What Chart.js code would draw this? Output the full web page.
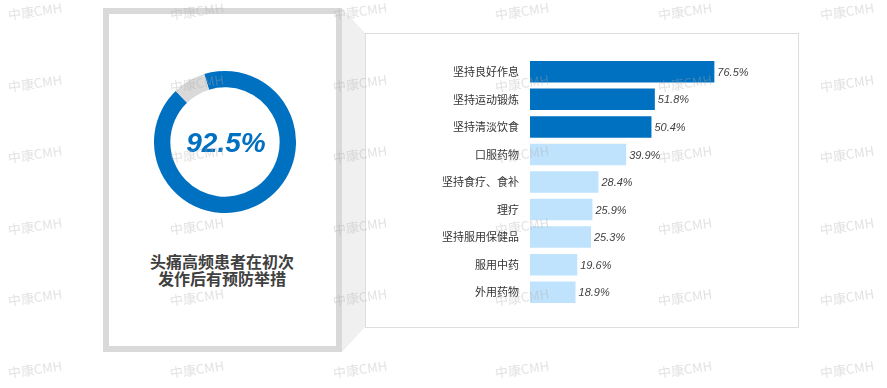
<!DOCTYPE html>
<html>
<head>
<meta charset="utf-8">
<script src="https://cdn.jsdelivr.net/npm/chart.js@4"></script>
<style>
  html, body { margin: 0; padding: 0; background: #fff; }
  #page { position: relative; width: 887px; height: 388px; overflow: hidden; font-family: "Noto Sans CJK SC", "Liberation Sans", sans-serif; }
  #leftBox { position: absolute; left: 103px; top: 8px; width: 227px; height: 332px; border: 6px solid #d9d9d9; background: #fff; }
  #side { position: absolute; left: 342px; top: 8px; width: 23px; height: 344px; background: #f0f0f0;
          clip-path: polygon(0 0, 100% 25px, 100% 319px, 0 100%); }
  #rightBox { position: absolute; left: 365px; top: 33px; width: 432px; height: 293px; border: 1px solid #dedede; background: #fff; }
  #donutWrap { position: absolute; left: 154px; top: 71px; width: 142px; height: 142px; }
  #donutText { position: absolute; left: 146px; top: 126px; width: 160px; text-align: center; font: italic bold 28px "Liberation Sans", Arial, sans-serif; color: #0070c0; line-height: 34px; }
  #title { position: absolute; left: 112px; top: 253px; width: 220px; text-align: center; font-weight: bold; font-size: 16px; line-height: 17px; color: #404040; }
  #barWrap { position: absolute; left: 365px; top: 33px; width: 433px; height: 294px; }
  .wm { position: absolute; font: 13px "Noto Sans CJK SC", "Liberation Sans", sans-serif; color: rgba(170,170,170,0.35); transform: rotate(-8deg); transform-origin: left center; white-space: nowrap; pointer-events: none; }
</style>
</head>
<body>
<div id="page">
  <div id="leftBox"></div>
  <div id="side"></div>
  <div id="rightBox"></div>
  <div id="donutWrap"><canvas id="donut"></canvas></div>
  <div id="donutText"></div>
  <div id="title">头痛高频患者在初次<br>发作后有预防举措</div>
  <div id="barWrap"><canvas id="bars"></canvas></div>
</div>
<script>
// donut: share with preventive measures
const donutValues = [92.5, 7.5];
const donutColors = ['#0070c0', '#d9d9d9'];

// bar chart
const categories = ['坚持良好作息', '坚持运动锻炼', '坚持清淡饮食', '口服药物', '坚持食疗、食补', '理疗', '坚持服用保健品', '服用中药', '外用药物'];
const values = [76.5, 51.8, 50.4, 39.9, 28.4, 25.9, 25.3, 19.6, 18.9];
const barColors = ['#0070c0', '#0070c0', '#0070c0', '#bfe3fd', '#bfe3fd', '#bfe3fd', '#bfe3fd', '#bfe3fd', '#bfe3fd'];

document.getElementById('donutText').textContent = donutValues[0] + '%';

new Chart(document.getElementById('donut'), {
    type: 'doughnut',
    data: {
        datasets: [{ data: donutValues, backgroundColor: donutColors, borderWidth: 0 }]
    },
    options: {
        responsive: true,
        maintainAspectRatio: false,
        animation: false,
        cutout: '77%',
        rotation: -17,
        plugins: { legend: { display: false }, tooltip: { enabled: false } }
    }
});

// value labels at the end of each bar
const valueLabels = {
    id: 'valueLabels',
    afterDatasetsDraw(chart) {
        const ctx = chart.ctx;
        const meta = chart.getDatasetMeta(0);
        ctx.save();
        ctx.font = 'italic 11px "Liberation Sans", Arial, sans-serif';
        ctx.fillStyle = '#404040';
        ctx.textAlign = 'left';
        ctx.textBaseline = 'middle';
        meta.data.forEach((bar, i) => {
            ctx.fillText(values[i].toFixed(1) + '%', bar.x + 3, bar.y + 1);
        });
        ctx.restore();
    }
};

new Chart(document.getElementById('bars'), {
    type: 'bar',
    data: {
        labels: categories,
        datasets: [{ data: values, backgroundColor: barColors, borderWidth: 0, barPercentage: 0.78, categoryPercentage: 1 }]
    },
    options: {
        indexAxis: 'y',
        responsive: true,
        maintainAspectRatio: false,
        animation: false,
        layout: { padding: { left: 0, right: 27, top: 25, bottom: 21 } },
        scales: {
            x: { display: false, min: 0, max: 100 },
            y: {
                grid: { display: false, drawTicks: false },
                border: { display: false },
                ticks: { padding: 11, color: '#333', font: { size: 11, family: '"Noto Sans CJK SC", sans-serif' } },
                afterFit(scale) { scale.width = 165; }
            }
        },
        plugins: { legend: { display: false }, tooltip: { enabled: false } }
    },
    plugins: [valueLabels]
});

// watermark grid
const wmCols = [8, 170, 333, 495, 658, 820];
const wmRows = [14, 86, 157, 229, 300, 372];
const page = document.getElementById('page');
wmRows.forEach(y => wmCols.forEach(x => {
    const s = document.createElement('span');
    s.className = 'wm';
    s.textContent = '中康CMH';
    s.style.left = x + 'px';
    s.style.top = (y - 9) + 'px';
    page.appendChild(s);
}));
</script>
</body>
</html>
